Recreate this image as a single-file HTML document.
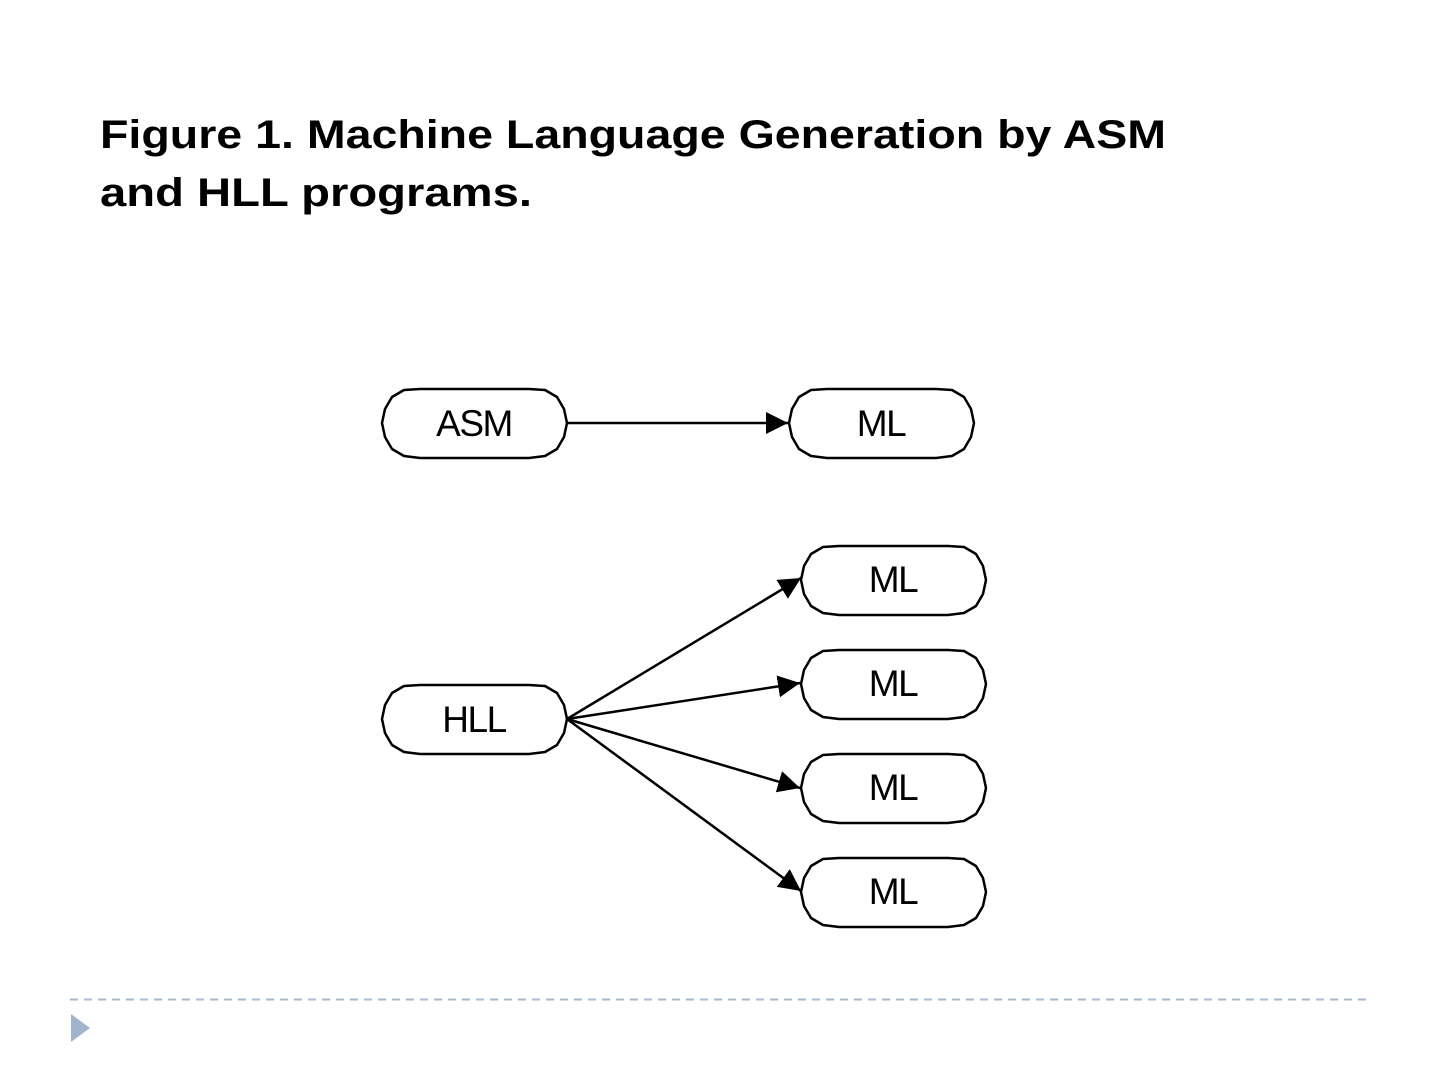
<!DOCTYPE html>
<html><head><meta charset="utf-8"><style>html,body{margin:0;padding:0;background:#fff}svg{display:block}</style></head>
<body>
<svg width="1440" height="1080" viewBox="0 0 1440 1080" xmlns="http://www.w3.org/2000/svg">
<defs>
<marker id="a" viewBox="0 0 10 10" refX="10" refY="5" markerWidth="22" markerHeight="22" markerUnits="userSpaceOnUse" orient="auto"><path d="M0,0 L10,5 L0,10 z" fill="#000"/></marker>
<path id="n" d="M0,34 L3,20 L10,8 L22,1 L38,0 L147,0 L163,1 L175,8 L182,20 L185,34 L182,48 L175,60 L163,67 L147,69 L38,69 L22,67 L10,60 L3,48 Z" fill="#fff" stroke="#000" stroke-width="2.5" stroke-linejoin="round"/>
</defs>
<g font-family="Liberation Sans, sans-serif" font-weight="bold" font-size="40" fill="#000">
<text x="100" y="148" textLength="1066" lengthAdjust="spacingAndGlyphs">Figure 1. Machine Language Generation by ASM</text>
<text x="100" y="206" textLength="432" lengthAdjust="spacingAndGlyphs">and HLL programs.</text>
</g>
<g stroke="#000" stroke-width="2.5" fill="none" marker-end="url(#a)">
<line x1="567" y1="423" x2="788" y2="423"/>
<line x1="567" y1="719" x2="801" y2="578"/>
<line x1="567" y1="719" x2="800" y2="683"/>
<line x1="567" y1="719" x2="800" y2="788"/>
<line x1="567" y1="719" x2="801" y2="891"/>
</g>
<use href="#n" x="382" y="389"/>
<use href="#n" x="789" y="389"/>
<use href="#n" x="382" y="685"/>
<use href="#n" x="801" y="546"/>
<use href="#n" x="801" y="650"/>
<use href="#n" x="801" y="754"/>
<use href="#n" x="801" y="858"/>
<g font-family="Liberation Sans, sans-serif" font-size="37" fill="#000" text-anchor="middle" letter-spacing="-1.5">
<text x="474" y="436">ASM</text>
<text x="881" y="436">ML</text>
<text x="474" y="732">HLL</text>
<text x="893" y="592">ML</text>
<text x="893" y="696">ML</text>
<text x="893" y="800">ML</text>
<text x="893" y="904">ML</text>
</g>
<line x1="70" y1="999.5" x2="1370" y2="999.5" stroke="#a9b9cf" stroke-width="2" stroke-dasharray="8,6"/>
<path d="M71,1014 L90,1028 L71,1042 Z" fill="#a0b4cc"/>
</svg>
</body></html>
